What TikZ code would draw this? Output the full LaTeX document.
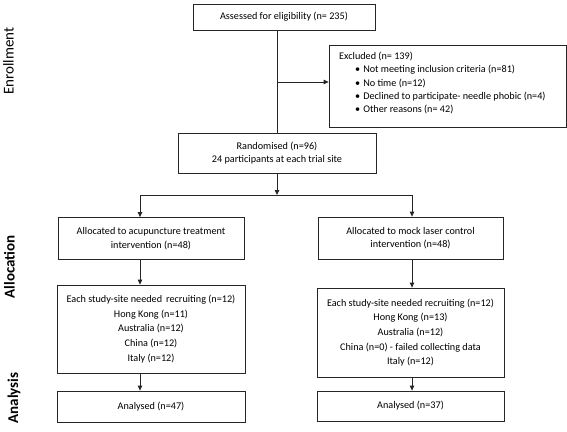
\documentclass[tikz,border=0pt]{standalone}
\usepackage{fontspec}
\setmainfont{Carlito}
\usetikzlibrary{arrows.meta,calc}
\begin{document}
\begin{tikzpicture}[x=1pt,y=-1pt,
  box/.style={draw=black!85,line width=0.8pt,inner sep=0pt,align=center,font=\fontsize{10.2}{12.5}\selectfont},
  lab/.style={rotate=90,inner sep=0pt,font=\fontsize{15}{17}\selectfont},
  arr/.style={draw=black!85,line width=0.8pt,-{Triangle[length=5pt,width=4.5pt]}},
  ln/.style={draw=black!85,line width=0.8pt}]
\useasboundingbox (0,0) rectangle (567,431);
% enrollment
\node[box,minimum width=182pt,minimum height=26pt] (assess) at (284,17) {Assessed for eligibility (n= 235)};
\node[box,minimum width=237pt,minimum height=82pt] (excl) at (447.5,86) {};
\node[anchor=west,inner sep=0pt,align=left,font=\fontsize{10.2}{13.3}\selectfont] (excltxt) at (339,83) {%
Excluded (n= 139)\\
\hspace{16pt}\textbullet\hspace{3pt}Not meeting inclusion criteria (n=81)\\
\hspace{16pt}\textbullet\hspace{3pt}No time (n=12)\\
\hspace{16pt}\textbullet\hspace{3pt}Declined to participate- needle phobic (n=4)\\
\hspace{16pt}\textbullet\hspace{3pt}Other reasons (n= 42)};
\node[box,minimum width=198pt,minimum height=40pt] (rand) at (277,153) {Randomised (n=96)\\24 participants at each trial site};
% allocation
\node[box,minimum width=186pt,minimum height=42pt,font=\fontsize{10.2}{13.5}\selectfont] (alloc1) at (151,238.5) {Allocated to acupuncture treatment\\intervention (n=48)};
\node[box,minimum width=185pt,minimum height=42pt,font=\fontsize{10.2}{13}\selectfont] (alloc2) at (410.5,238) {Allocated to mock laser control\\intervention (n=48)};
\node[box,minimum width=188pt,minimum height=88pt,font=\fontsize{10.2}{14.7}\selectfont] (site1) at (151,329) {Each study-site needed\, recruiting (n=12)\\Hong Kong (n=11)\\Australia (n=12)\\China (n=12)\\Italy (n=12)};
\node[box,minimum width=187pt,minimum height=89pt,font=\fontsize{10.2}{14.6}\selectfont] (site2) at (410.5,332.5) {Each study-site needed recruiting (n=12)\\Hong Kong (n=13)\\Australia (n=12)\\China (n=0) - failed collecting data\\Italy (n=12)};
% analysis
\node[box,minimum width=188pt,minimum height=31pt] (an1) at (151,406.5) {Analysed (n=47)};
\node[box,minimum width=187pt,minimum height=30pt] (an2) at (410.5,406) {Analysed (n=37)};
% side labels
\node[lab] (lenr) at (8.5,61) {Enrollment};
\node[lab,font=\fontsize{15}{17}\bfseries] (lall) at (9.5,267) {Allocation};
\node[lab,font=\fontsize{15}{17}\bfseries] (lana) at (14,398) {Analysis};
% connectors
\coordinate (split) at (277,195);
\coordinate (lcol) at (140,195);
\coordinate (rcol) at (412,195);
\draw[ln] (rand.north |- assess.south) -- (rand.north);
\draw[arr] (rand.north |- excl.west) ++(0,-4) -- ([yshift=4pt]excl.west);
\draw[arr] (rand.south) -- (split);
\draw[ln] (lcol) -- (rcol);
\draw[arr] (lcol) -- (alloc1.north -| lcol);
\draw[arr] (rcol) -- (alloc2.north -| rcol);
\draw[arr] (alloc1.south -| lcol) -- (site1.north -| lcol);
\draw[arr] (alloc2.south -| rcol) -- (site2.north -| rcol);
\draw[arr] (site1.south -| lcol) -- (an1.north -| lcol);
\draw[arr] (site2.south -| rcol) -- (an2.north -| rcol);
\end{tikzpicture}
\end{document}
